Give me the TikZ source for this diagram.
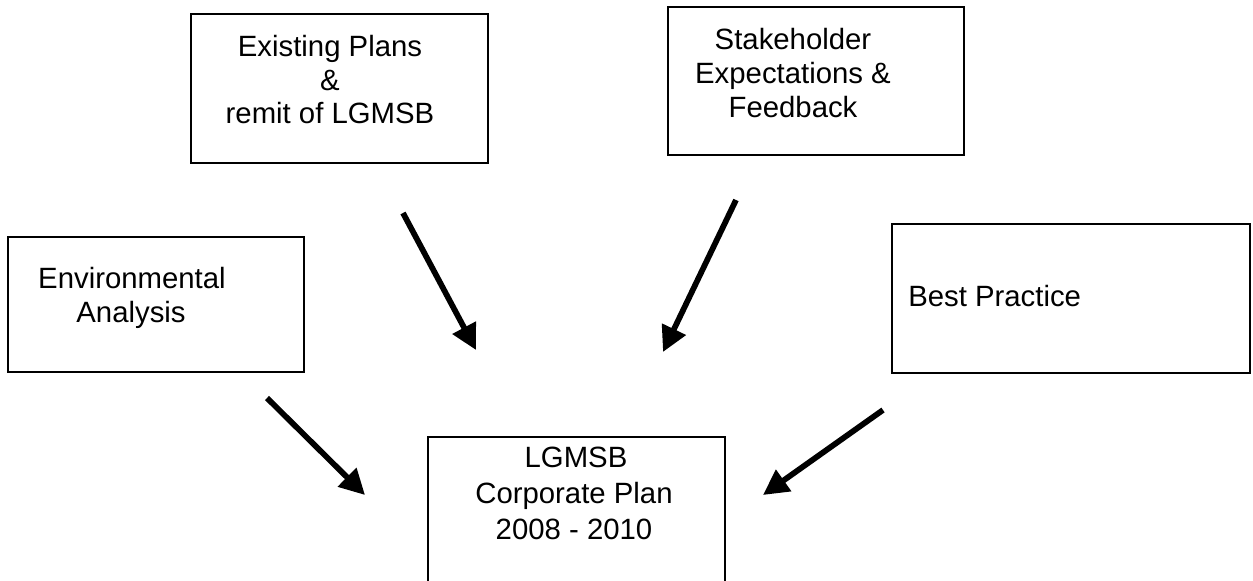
\documentclass[tikz,border=0pt]{standalone}
\usepackage{fontspec}
\setmainfont{Liberation Sans}
\usetikzlibrary{arrows.meta,fit}
\begin{document}
\begin{tikzpicture}[x=0.75pt,y=-0.75pt,
  box/.style={draw=black,line width=1pt,inner sep=0pt,rectangle},
  txt/.style={inner sep=0pt,font=\fontsize{22}{26}\selectfont,anchor=base},
  bigarrow/.style={line width=4.3pt,-{Triangle[length=19pt,width=19pt]}}]
\useasboundingbox (0,0) rectangle (1253,581);
\clip (0,0) rectangle (1253,581);
% boxes
\node[box,fit={(191,14) (488,163)}] (ep) {};
\node[box,fit={(668,7) (964,155)}] (sh) {};
\node[box,fit={(8,237) (304,372)}] (ea) {};
\node[box,fit={(892,224) (1250,373)}] (bp) {};
\node[box,fit={(428,437) (725,600)}] (cp) {};
% texts
\node[txt] (ep1) at (330,57) {Existing Plans};
\node[txt] (ep2) at (330,91) {\&};
\node[txt] (ep3) at (330,124) {remit of LGMSB};
\node[txt] (sh1) at (793,50) {Stakeholder};
\node[txt] (sh2) at (793,84) {Expectations \&};
\node[txt] (sh3) at (793,118) {Feedback};
\node[txt] (ea1) at (132,288) {Environmental};
\node[txt] (ea2) at (131,322) {Analysis};
\node[txt,anchor=base west] (bp1) at (908,306) {Best Practice};
\node[txt] (cp1) at (576,467) {LGMSB};
\node[txt] (cp2) at (574,503) {Corporate Plan};
\node[txt] (cp3) at (574,539) {2008 - 2010};
% arrow ends
\coordinate (a1s) at (403,213);
\coordinate (a1e) at (476,350);
\coordinate (a2s) at (736,200);
\coordinate (a2e) at (663,352);
\coordinate (a3s) at (267,398);
\coordinate (a3e) at (365,495);
\coordinate (a4s) at (883,410);
\coordinate (a4e) at (763,495);
\draw[bigarrow] (a1s) -- (a1e);
\draw[bigarrow] (a2s) -- (a2e);
\draw[bigarrow] (a3s) -- (a3e);
\draw[bigarrow] (a4s) -- (a4e);
\end{tikzpicture}
\end{document}
